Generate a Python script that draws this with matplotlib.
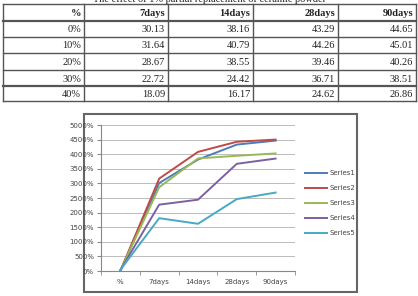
import matplotlib
matplotlib.use("Agg")
import matplotlib.pyplot as plt
from matplotlib.patches import Rectangle
from matplotlib.ticker import FuncFormatter, MultipleLocator, FixedLocator

# data
categories = ['%', '7days', '14days', '28days', '90days']
replacement = ['0%', '10%', '20%', '30%', '40%']
replacement_frac = [0.0, 0.1, 0.2, 0.3, 0.4]
days_7 = [30.13, 31.64, 28.67, 22.72, 18.09]
days_14 = [38.16, 40.79, 38.55, 24.42, 16.17]
days_28 = [43.29, 44.26, 39.46, 36.71, 24.62]
days_90 = [44.65, 45.01, 40.26, 38.51, 26.86]
series_names = ['Series1', 'Series2', 'Series3', 'Series4', 'Series5']
colors = ['#4A7EBB', '#BE4B48', '#98B954', '#7D60A0', '#46AAC5']

W, H = 418, 296
fig = plt.figure(figsize=(W / 100, H / 100), dpi=100)

# full-figure overlay in pixel coords for the table
bg = fig.add_axes([0, 0, 1, 1])
bg.set_xlim(0, W)
bg.set_ylim(H, 0)
bg.axis('off')

serif = 'Liberation Serif'
# caption is cut by the top edge in the original too
bg.text(210, 2.5, 'The effect of 1% partial replacement of ceramic powder',
        ha='center', va='baseline', fontsize=7.5, family=serif, color='#222222')

col_edges = [3, 84, 168, 253, 338, 416]
row_edges = [4.3, 20.7, 36.7, 53.3, 70, 86, 100.7]
for x in col_edges:
    bg.plot([x, x], [row_edges[0], row_edges[-1]], color='#555555', lw=1.0)
for i, y in enumerate(row_edges):
    lw = 1.6 if i in (1, 5) else 1.0
    bg.plot([col_edges[0], col_edges[-1]], [y, y], color='#555555', lw=lw)

header = ['%'] + categories[1:]
table_rows = [header] + [
    [replacement[i], f'{days_7[i]:.2f}', f'{days_14[i]:.2f}', f'{days_28[i]:.2f}', f'{days_90[i]:.2f}']
    for i in range(len(replacement))
]
for r, row in enumerate(table_rows):
    yc = (row_edges[r] + row_edges[r + 1]) / 2 + 1
    for c, cell in enumerate(row):
        bg.text(col_edges[c + 1] - 3, yc, cell, ha='right', va='center',
                fontsize=7.5, family=serif, color='#222222',
                fontweight='bold' if r == 0 else 'normal')

# chart frame
bg.add_patch(Rectangle((84, 114), 273, 178, fill=False, edgecolor='#666666', lw=1.5))

# chart
ax = fig.add_axes([101 / W, 1 - 271 / H, 194 / W, 146 / H])
x = list(range(len(categories)))
for i in range(len(series_names)):
    vals = [replacement_frac[i], days_7[i], days_14[i], days_28[i], days_90[i]]
    ax.plot(x, [v * 100 for v in vals], color=colors[i], lw=1.4, label=series_names[i])

ax.set_xlim(-0.5, 4.5)
ax.set_ylim(0, 5000)
ax.yaxis.set_major_locator(MultipleLocator(500))
ax.yaxis.set_major_formatter(FuncFormatter(lambda v, p: f'{v:.0f}%'))
ax.set_xticks(x)
ax.set_xticklabels(categories)
ax.xaxis.set_minor_locator(FixedLocator([-0.5, 0.5, 1.5, 2.5, 3.5, 4.5]))
ax.tick_params(axis='x', which='major', length=0, labelsize=5, colors='#444444', pad=6)
ax.tick_params(axis='x', which='minor', length=3, color='#888888')
ax.tick_params(axis='y', length=3, labelsize=5, colors='#444444', color='#888888', pad=2)
ax.grid(axis='y', color='#BBBBBB', lw=0.7)
ax.set_axisbelow(True)
for s in ['top', 'right']:
    ax.spines[s].set_visible(False)
for s in ['left', 'bottom']:
    ax.spines[s].set_color('#888888')
    ax.spines[s].set_linewidth(0.8)

leg = ax.legend(loc='center left', bbox_to_anchor=(305 / W, 1 - 203 / H),
                bbox_transform=fig.transFigure, frameon=False, fontsize=5,
                handlelength=3.2, handletextpad=0.3, labelspacing=1.3,
                borderaxespad=0, borderpad=0)
for t in leg.get_texts():
    t.set_color('#444444')

fig.savefig('out.png', dpi=100)
